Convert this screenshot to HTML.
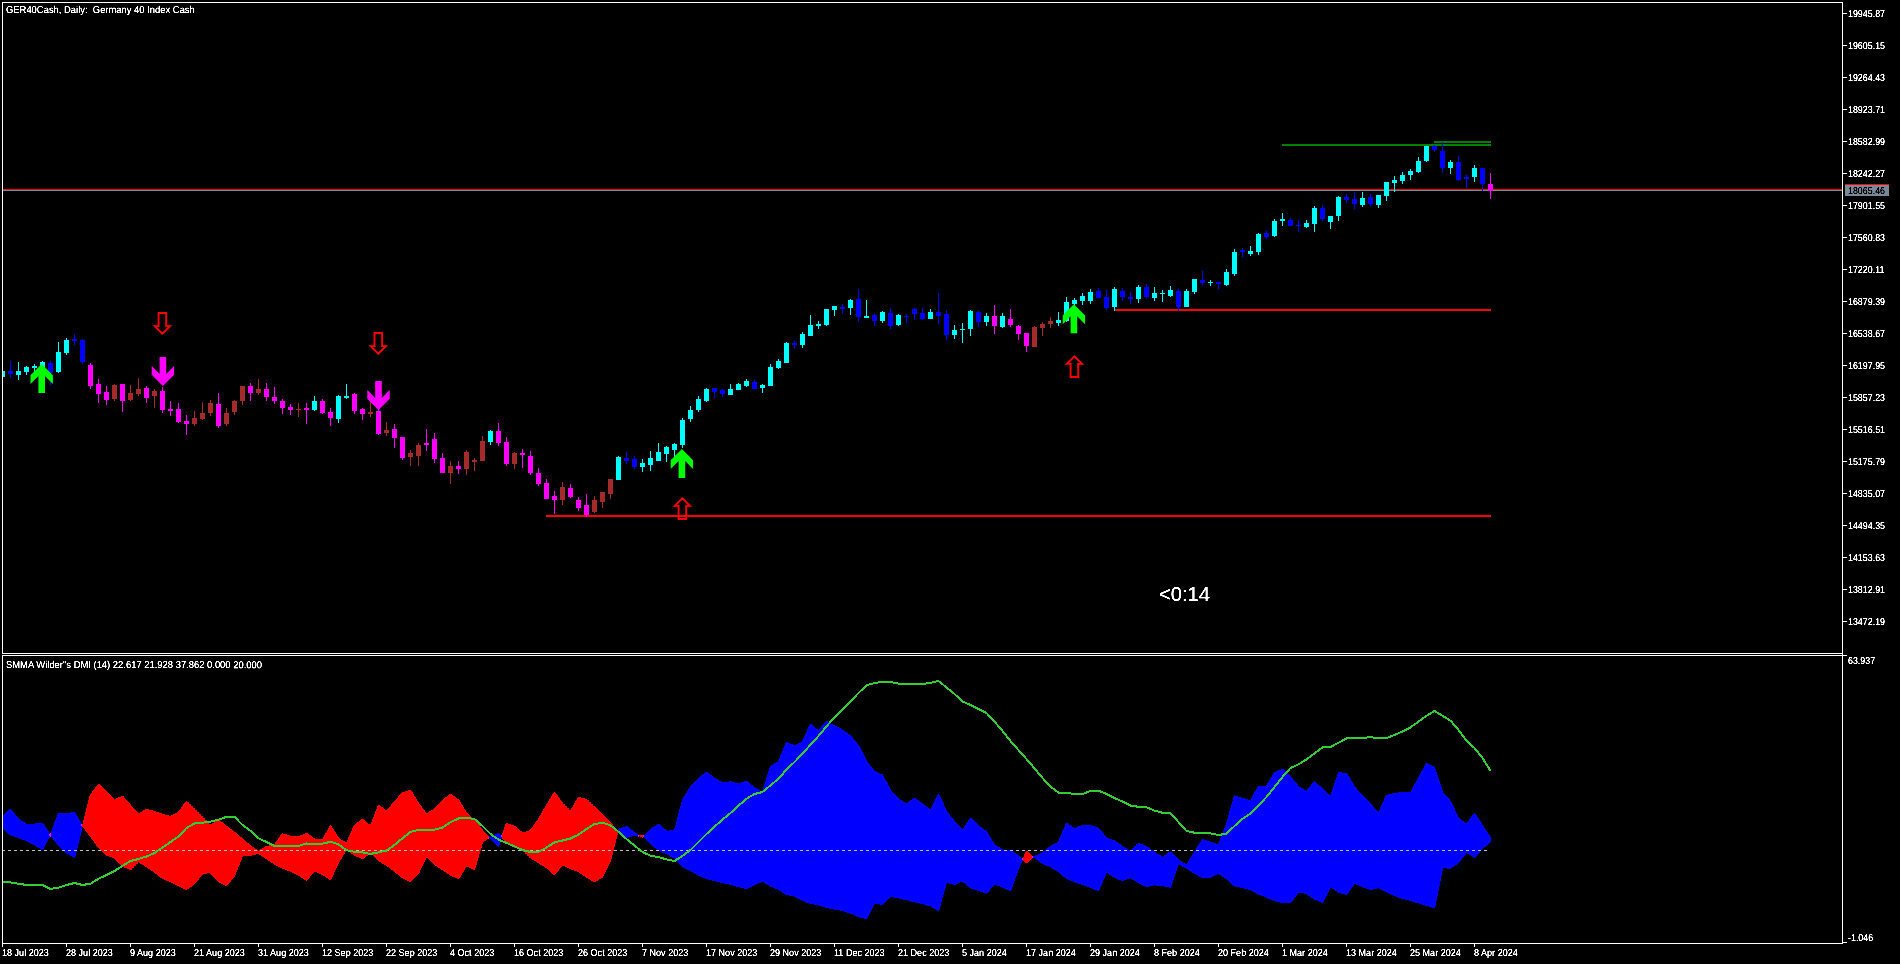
<!DOCTYPE html>
<html><head><meta charset="utf-8"><title>GER40Cash Daily</title>
<style>
html,body{margin:0;padding:0;background:#000;}
body{width:1900px;height:964px;overflow:hidden;position:relative;font-family:"Liberation Sans",sans-serif;color:#fff;}
svg{position:absolute;left:0;top:0;}
div{position:absolute;white-space:pre;line-height:12px;height:12px;transform-origin:0 0;}
.a{font-size:10px;transform:scaleX(.888) rotate(.03deg);}
.a.d{transform:scaleX(.905) rotate(.03deg);}
.h{font-size:10px;transform:scaleX(.941) rotate(.03deg);}
.tm{font-size:19.6px;line-height:24px;height:24px;transform:scaleX(1.03);}
</style></head><body>
<svg width="1900" height="964" viewBox="0 0 1900 964" shape-rendering="crispEdges">
<rect x="3" y="189" width="1839" height="1" fill="#ff0000"/>
<rect x="3" y="190" width="1839" height="1" fill="#778899"/>
<rect x="1282" y="144" width="209" height="2" fill="#008000"/>
<rect x="1434" y="141" width="57" height="2" fill="#008000"/>
<rect x="546" y="515" width="945" height="2" fill="#ff0000"/>
<rect x="1115" y="309" width="376" height="2" fill="#ff0000"/>
<rect x="3" y="371" width="2" height="6" fill="#00ffff"/>
<rect x="10" y="361" width="1" height="17" fill="#0000ff"/>
<rect x="8" y="371" width="5" height="3" fill="#0000ff"/>
<rect x="18" y="362" width="1" height="18" fill="#00ffff"/>
<rect x="16" y="371" width="5" height="4" fill="#00ffff"/>
<rect x="26" y="366" width="1" height="9" fill="#00ffff"/>
<rect x="24" y="367" width="5" height="5" fill="#00ffff"/>
<rect x="34" y="364" width="1" height="8" fill="#00ffff"/>
<rect x="32" y="366" width="5" height="2" fill="#00ffff"/>
<rect x="42" y="361" width="1" height="11" fill="#00ffff"/>
<rect x="40" y="362" width="5" height="8" fill="#00ffff"/>
<rect x="50" y="361" width="1" height="24" fill="#0000ff"/>
<rect x="48" y="363" width="5" height="10" fill="#0000ff"/>
<rect x="58" y="342" width="1" height="31" fill="#00ffff"/>
<rect x="56" y="352" width="5" height="20" fill="#00ffff"/>
<rect x="66" y="338" width="1" height="17" fill="#00ffff"/>
<rect x="64" y="340" width="5" height="13" fill="#00ffff"/>
<rect x="74" y="334" width="1" height="11" fill="#0000ff"/>
<rect x="72" y="339" width="5" height="2" fill="#0000ff"/>
<rect x="82" y="339" width="1" height="25" fill="#0000ff"/>
<rect x="80" y="340" width="5" height="22" fill="#0000ff"/>
<rect x="90" y="363" width="1" height="26" fill="#ff00ff"/>
<rect x="88" y="365" width="5" height="21" fill="#ff00ff"/>
<rect x="98" y="379" width="1" height="24" fill="#ff00ff"/>
<rect x="96" y="384" width="5" height="10" fill="#ff00ff"/>
<rect x="106" y="386" width="1" height="19" fill="#ff00ff"/>
<rect x="104" y="392" width="5" height="8" fill="#ff00ff"/>
<rect x="114" y="384" width="1" height="17" fill="#a52a2a"/>
<rect x="112" y="385" width="5" height="14" fill="#a52a2a"/>
<rect x="122" y="384" width="1" height="28" fill="#ff00ff"/>
<rect x="120" y="384" width="5" height="17" fill="#ff00ff"/>
<rect x="130" y="385" width="1" height="16" fill="#a52a2a"/>
<rect x="128" y="393" width="5" height="7" fill="#a52a2a"/>
<rect x="138" y="378" width="1" height="18" fill="#a52a2a"/>
<rect x="136" y="389" width="5" height="5" fill="#a52a2a"/>
<rect x="146" y="386" width="1" height="17" fill="#ff00ff"/>
<rect x="144" y="388" width="5" height="10" fill="#ff00ff"/>
<rect x="154" y="389" width="1" height="19" fill="#a52a2a"/>
<rect x="152" y="391" width="5" height="5" fill="#a52a2a"/>
<rect x="162" y="387" width="1" height="26" fill="#ff00ff"/>
<rect x="160" y="391" width="5" height="19" fill="#ff00ff"/>
<rect x="170" y="401" width="1" height="15" fill="#ff00ff"/>
<rect x="168" y="409" width="5" height="2" fill="#ff00ff"/>
<rect x="178" y="403" width="1" height="20" fill="#ff00ff"/>
<rect x="176" y="409" width="5" height="13" fill="#ff00ff"/>
<rect x="186" y="415" width="1" height="20" fill="#ff00ff"/>
<rect x="184" y="421" width="5" height="3" fill="#ff00ff"/>
<rect x="194" y="411" width="1" height="15" fill="#a52a2a"/>
<rect x="192" y="418" width="5" height="6" fill="#a52a2a"/>
<rect x="202" y="402" width="1" height="18" fill="#a52a2a"/>
<rect x="200" y="413" width="5" height="6" fill="#a52a2a"/>
<rect x="210" y="400" width="1" height="16" fill="#a52a2a"/>
<rect x="208" y="403" width="5" height="10" fill="#a52a2a"/>
<rect x="218" y="393" width="1" height="35" fill="#ff00ff"/>
<rect x="216" y="404" width="5" height="22" fill="#ff00ff"/>
<rect x="226" y="408" width="1" height="18" fill="#a52a2a"/>
<rect x="224" y="413" width="5" height="11" fill="#a52a2a"/>
<rect x="234" y="400" width="1" height="15" fill="#a52a2a"/>
<rect x="232" y="401" width="5" height="11" fill="#a52a2a"/>
<rect x="242" y="386" width="1" height="19" fill="#a52a2a"/>
<rect x="240" y="386" width="5" height="15" fill="#a52a2a"/>
<rect x="250" y="383" width="1" height="18" fill="#ff00ff"/>
<rect x="248" y="386" width="5" height="7" fill="#ff00ff"/>
<rect x="258" y="379" width="1" height="16" fill="#a52a2a"/>
<rect x="256" y="389" width="5" height="4" fill="#a52a2a"/>
<rect x="266" y="383" width="1" height="18" fill="#ff00ff"/>
<rect x="264" y="389" width="5" height="8" fill="#ff00ff"/>
<rect x="274" y="387" width="1" height="17" fill="#ff00ff"/>
<rect x="272" y="397" width="5" height="4" fill="#ff00ff"/>
<rect x="282" y="399" width="1" height="15" fill="#ff00ff"/>
<rect x="280" y="401" width="5" height="7" fill="#ff00ff"/>
<rect x="290" y="404" width="1" height="11" fill="#ff00ff"/>
<rect x="288" y="407" width="5" height="3" fill="#ff00ff"/>
<rect x="298" y="403" width="1" height="14" fill="#a52a2a"/>
<rect x="296" y="409" width="5" height="1" fill="#a52a2a"/>
<rect x="306" y="403" width="1" height="21" fill="#ff00ff"/>
<rect x="304" y="408" width="5" height="2" fill="#ff00ff"/>
<rect x="314" y="396" width="1" height="15" fill="#00ffff"/>
<rect x="312" y="401" width="5" height="9" fill="#00ffff"/>
<rect x="322" y="399" width="1" height="15" fill="#ff00ff"/>
<rect x="320" y="401" width="5" height="12" fill="#ff00ff"/>
<rect x="330" y="408" width="1" height="18" fill="#ff00ff"/>
<rect x="328" y="412" width="5" height="6" fill="#ff00ff"/>
<rect x="338" y="395" width="1" height="28" fill="#00ffff"/>
<rect x="336" y="396" width="5" height="23" fill="#00ffff"/>
<rect x="346" y="384" width="1" height="15" fill="#00ffff"/>
<rect x="344" y="396" width="5" height="2" fill="#00ffff"/>
<rect x="354" y="393" width="1" height="21" fill="#ff00ff"/>
<rect x="352" y="394" width="5" height="17" fill="#ff00ff"/>
<rect x="362" y="408" width="1" height="12" fill="#ff00ff"/>
<rect x="360" y="409" width="5" height="5" fill="#ff00ff"/>
<rect x="370" y="401" width="1" height="16" fill="#a52a2a"/>
<rect x="368" y="412" width="5" height="2" fill="#a52a2a"/>
<rect x="378" y="409" width="1" height="26" fill="#ff00ff"/>
<rect x="376" y="411" width="5" height="23" fill="#ff00ff"/>
<rect x="386" y="422" width="1" height="14" fill="#a52a2a"/>
<rect x="384" y="430" width="5" height="3" fill="#a52a2a"/>
<rect x="394" y="424" width="1" height="24" fill="#ff00ff"/>
<rect x="392" y="429" width="5" height="9" fill="#ff00ff"/>
<rect x="402" y="437" width="1" height="23" fill="#ff00ff"/>
<rect x="400" y="437" width="5" height="21" fill="#ff00ff"/>
<rect x="410" y="450" width="1" height="16" fill="#a52a2a"/>
<rect x="408" y="453" width="5" height="4" fill="#a52a2a"/>
<rect x="418" y="443" width="1" height="23" fill="#a52a2a"/>
<rect x="416" y="445" width="5" height="11" fill="#a52a2a"/>
<rect x="426" y="429" width="1" height="22" fill="#ff00ff"/>
<rect x="424" y="443" width="5" height="2" fill="#ff00ff"/>
<rect x="434" y="433" width="1" height="30" fill="#ff00ff"/>
<rect x="432" y="439" width="5" height="20" fill="#ff00ff"/>
<rect x="442" y="453" width="1" height="20" fill="#ff00ff"/>
<rect x="440" y="458" width="5" height="15" fill="#ff00ff"/>
<rect x="450" y="461" width="1" height="23" fill="#a52a2a"/>
<rect x="448" y="466" width="5" height="7" fill="#a52a2a"/>
<rect x="458" y="461" width="1" height="13" fill="#ff00ff"/>
<rect x="456" y="466" width="5" height="3" fill="#ff00ff"/>
<rect x="466" y="450" width="1" height="25" fill="#a52a2a"/>
<rect x="464" y="452" width="5" height="17" fill="#a52a2a"/>
<rect x="474" y="458" width="1" height="13" fill="#a52a2a"/>
<rect x="472" y="460" width="5" height="2" fill="#a52a2a"/>
<rect x="482" y="436" width="1" height="25" fill="#a52a2a"/>
<rect x="480" y="441" width="5" height="20" fill="#a52a2a"/>
<rect x="490" y="430" width="1" height="15" fill="#00ffff"/>
<rect x="488" y="431" width="5" height="11" fill="#00ffff"/>
<rect x="498" y="423" width="1" height="23" fill="#ff00ff"/>
<rect x="496" y="431" width="5" height="12" fill="#ff00ff"/>
<rect x="506" y="437" width="1" height="29" fill="#ff00ff"/>
<rect x="504" y="442" width="5" height="22" fill="#ff00ff"/>
<rect x="514" y="452" width="1" height="17" fill="#a52a2a"/>
<rect x="512" y="453" width="5" height="11" fill="#a52a2a"/>
<rect x="522" y="449" width="1" height="19" fill="#ff00ff"/>
<rect x="520" y="453" width="5" height="2" fill="#ff00ff"/>
<rect x="530" y="451" width="1" height="24" fill="#ff00ff"/>
<rect x="528" y="456" width="5" height="17" fill="#ff00ff"/>
<rect x="538" y="468" width="1" height="18" fill="#ff00ff"/>
<rect x="536" y="473" width="5" height="11" fill="#ff00ff"/>
<rect x="546" y="479" width="1" height="20" fill="#ff00ff"/>
<rect x="544" y="483" width="5" height="16" fill="#ff00ff"/>
<rect x="554" y="491" width="1" height="23" fill="#ff00ff"/>
<rect x="552" y="496" width="5" height="4" fill="#ff00ff"/>
<rect x="562" y="482" width="1" height="23" fill="#a52a2a"/>
<rect x="560" y="487" width="5" height="13" fill="#a52a2a"/>
<rect x="570" y="484" width="1" height="14" fill="#ff00ff"/>
<rect x="568" y="488" width="5" height="9" fill="#ff00ff"/>
<rect x="578" y="497" width="1" height="14" fill="#ff00ff"/>
<rect x="576" y="500" width="5" height="8" fill="#ff00ff"/>
<rect x="586" y="494" width="1" height="23" fill="#ff00ff"/>
<rect x="584" y="505" width="5" height="10" fill="#ff00ff"/>
<rect x="594" y="496" width="1" height="17" fill="#a52a2a"/>
<rect x="592" y="500" width="5" height="12" fill="#a52a2a"/>
<rect x="602" y="492" width="1" height="16" fill="#a52a2a"/>
<rect x="600" y="492" width="5" height="10" fill="#a52a2a"/>
<rect x="610" y="479" width="1" height="20" fill="#a52a2a"/>
<rect x="608" y="479" width="5" height="15" fill="#a52a2a"/>
<rect x="618" y="456" width="1" height="24" fill="#00ffff"/>
<rect x="616" y="457" width="5" height="23" fill="#00ffff"/>
<rect x="626" y="452" width="1" height="12" fill="#0000ff"/>
<rect x="624" y="458" width="5" height="3" fill="#0000ff"/>
<rect x="634" y="456" width="1" height="13" fill="#0000ff"/>
<rect x="632" y="459" width="5" height="8" fill="#0000ff"/>
<rect x="642" y="459" width="1" height="13" fill="#00ffff"/>
<rect x="640" y="463" width="5" height="4" fill="#00ffff"/>
<rect x="650" y="451" width="1" height="20" fill="#00ffff"/>
<rect x="648" y="458" width="5" height="7" fill="#00ffff"/>
<rect x="658" y="443" width="1" height="18" fill="#00ffff"/>
<rect x="656" y="452" width="5" height="9" fill="#00ffff"/>
<rect x="666" y="446" width="1" height="16" fill="#00ffff"/>
<rect x="664" y="447" width="5" height="7" fill="#00ffff"/>
<rect x="674" y="443" width="1" height="14" fill="#00ffff"/>
<rect x="672" y="444" width="5" height="6" fill="#00ffff"/>
<rect x="682" y="418" width="1" height="30" fill="#00ffff"/>
<rect x="680" y="420" width="5" height="25" fill="#00ffff"/>
<rect x="690" y="406" width="1" height="16" fill="#00ffff"/>
<rect x="688" y="410" width="5" height="9" fill="#00ffff"/>
<rect x="698" y="396" width="1" height="16" fill="#00ffff"/>
<rect x="696" y="399" width="5" height="11" fill="#00ffff"/>
<rect x="706" y="388" width="1" height="14" fill="#00ffff"/>
<rect x="704" y="389" width="5" height="12" fill="#00ffff"/>
<rect x="714" y="388" width="1" height="10" fill="#0000ff"/>
<rect x="712" y="388" width="5" height="4" fill="#0000ff"/>
<rect x="722" y="389" width="1" height="8" fill="#0000ff"/>
<rect x="720" y="390" width="5" height="4" fill="#0000ff"/>
<rect x="730" y="384" width="1" height="11" fill="#00ffff"/>
<rect x="728" y="389" width="5" height="6" fill="#00ffff"/>
<rect x="738" y="383" width="1" height="7" fill="#00ffff"/>
<rect x="736" y="384" width="5" height="6" fill="#00ffff"/>
<rect x="746" y="379" width="1" height="8" fill="#00ffff"/>
<rect x="744" y="381" width="5" height="5" fill="#00ffff"/>
<rect x="754" y="380" width="1" height="9" fill="#0000ff"/>
<rect x="752" y="382" width="5" height="7" fill="#0000ff"/>
<rect x="762" y="384" width="1" height="9" fill="#00ffff"/>
<rect x="760" y="385" width="5" height="3" fill="#00ffff"/>
<rect x="770" y="364" width="1" height="22" fill="#00ffff"/>
<rect x="768" y="367" width="5" height="19" fill="#00ffff"/>
<rect x="778" y="359" width="1" height="10" fill="#00ffff"/>
<rect x="776" y="361" width="5" height="7" fill="#00ffff"/>
<rect x="786" y="342" width="1" height="21" fill="#00ffff"/>
<rect x="784" y="343" width="5" height="20" fill="#00ffff"/>
<rect x="794" y="341" width="1" height="8" fill="#0000ff"/>
<rect x="792" y="343" width="5" height="2" fill="#0000ff"/>
<rect x="802" y="332" width="1" height="16" fill="#00ffff"/>
<rect x="800" y="334" width="5" height="11" fill="#00ffff"/>
<rect x="810" y="315" width="1" height="21" fill="#00ffff"/>
<rect x="808" y="325" width="5" height="11" fill="#00ffff"/>
<rect x="818" y="321" width="1" height="8" fill="#00ffff"/>
<rect x="816" y="324" width="5" height="2" fill="#00ffff"/>
<rect x="826" y="309" width="1" height="17" fill="#00ffff"/>
<rect x="824" y="309" width="5" height="16" fill="#00ffff"/>
<rect x="834" y="306" width="1" height="10" fill="#00ffff"/>
<rect x="832" y="306" width="5" height="4" fill="#00ffff"/>
<rect x="842" y="304" width="1" height="10" fill="#0000ff"/>
<rect x="840" y="307" width="5" height="2" fill="#0000ff"/>
<rect x="850" y="299" width="1" height="16" fill="#00ffff"/>
<rect x="848" y="300" width="5" height="8" fill="#00ffff"/>
<rect x="858" y="289" width="1" height="33" fill="#0000ff"/>
<rect x="856" y="299" width="5" height="18" fill="#0000ff"/>
<rect x="866" y="300" width="1" height="18" fill="#00ffff"/>
<rect x="864" y="316" width="5" height="2" fill="#00ffff"/>
<rect x="874" y="314" width="1" height="12" fill="#0000ff"/>
<rect x="872" y="315" width="5" height="6" fill="#0000ff"/>
<rect x="882" y="311" width="1" height="12" fill="#00ffff"/>
<rect x="880" y="312" width="5" height="9" fill="#00ffff"/>
<rect x="890" y="308" width="1" height="21" fill="#0000ff"/>
<rect x="888" y="313" width="5" height="13" fill="#0000ff"/>
<rect x="898" y="314" width="1" height="12" fill="#00ffff"/>
<rect x="896" y="315" width="5" height="10" fill="#00ffff"/>
<rect x="906" y="314" width="1" height="9" fill="#0000ff"/>
<rect x="904" y="316" width="5" height="1" fill="#0000ff"/>
<rect x="914" y="308" width="1" height="12" fill="#0000ff"/>
<rect x="912" y="309" width="5" height="5" fill="#0000ff"/>
<rect x="922" y="308" width="1" height="12" fill="#0000ff"/>
<rect x="920" y="313" width="5" height="6" fill="#0000ff"/>
<rect x="930" y="309" width="1" height="10" fill="#00ffff"/>
<rect x="928" y="312" width="5" height="7" fill="#00ffff"/>
<rect x="938" y="293" width="1" height="31" fill="#0000ff"/>
<rect x="936" y="312" width="5" height="4" fill="#0000ff"/>
<rect x="946" y="310" width="1" height="30" fill="#0000ff"/>
<rect x="944" y="314" width="5" height="21" fill="#0000ff"/>
<rect x="954" y="325" width="1" height="14" fill="#00ffff"/>
<rect x="952" y="330" width="5" height="5" fill="#00ffff"/>
<rect x="962" y="323" width="1" height="20" fill="#00ffff"/>
<rect x="960" y="329" width="5" height="1" fill="#00ffff"/>
<rect x="970" y="310" width="1" height="26" fill="#00ffff"/>
<rect x="968" y="311" width="5" height="18" fill="#00ffff"/>
<rect x="978" y="311" width="1" height="16" fill="#0000ff"/>
<rect x="976" y="312" width="5" height="10" fill="#0000ff"/>
<rect x="986" y="313" width="1" height="13" fill="#00ffff"/>
<rect x="984" y="316" width="5" height="6" fill="#00ffff"/>
<rect x="994" y="305" width="1" height="29" fill="#ff00ff"/>
<rect x="992" y="316" width="5" height="10" fill="#ff00ff"/>
<rect x="1002" y="313" width="1" height="15" fill="#00ffff"/>
<rect x="1000" y="316" width="5" height="11" fill="#00ffff"/>
<rect x="1010" y="309" width="1" height="18" fill="#ff00ff"/>
<rect x="1008" y="319" width="5" height="6" fill="#ff00ff"/>
<rect x="1018" y="325" width="1" height="15" fill="#ff00ff"/>
<rect x="1016" y="326" width="5" height="8" fill="#ff00ff"/>
<rect x="1026" y="333" width="1" height="19" fill="#ff00ff"/>
<rect x="1024" y="333" width="5" height="13" fill="#ff00ff"/>
<rect x="1034" y="326" width="1" height="21" fill="#a52a2a"/>
<rect x="1032" y="327" width="5" height="20" fill="#a52a2a"/>
<rect x="1042" y="322" width="1" height="14" fill="#a52a2a"/>
<rect x="1040" y="324" width="5" height="4" fill="#a52a2a"/>
<rect x="1050" y="317" width="1" height="11" fill="#a52a2a"/>
<rect x="1048" y="321" width="5" height="3" fill="#a52a2a"/>
<rect x="1058" y="312" width="1" height="14" fill="#00ffff"/>
<rect x="1056" y="320" width="5" height="3" fill="#00ffff"/>
<rect x="1066" y="297" width="1" height="25" fill="#00ffff"/>
<rect x="1064" y="302" width="5" height="19" fill="#00ffff"/>
<rect x="1074" y="298" width="1" height="8" fill="#00ffff"/>
<rect x="1072" y="300" width="5" height="4" fill="#00ffff"/>
<rect x="1082" y="293" width="1" height="12" fill="#00ffff"/>
<rect x="1080" y="296" width="5" height="5" fill="#00ffff"/>
<rect x="1090" y="289" width="1" height="15" fill="#00ffff"/>
<rect x="1088" y="292" width="5" height="9" fill="#00ffff"/>
<rect x="1098" y="288" width="1" height="10" fill="#0000ff"/>
<rect x="1096" y="291" width="5" height="7" fill="#0000ff"/>
<rect x="1106" y="290" width="1" height="20" fill="#0000ff"/>
<rect x="1104" y="297" width="5" height="11" fill="#0000ff"/>
<rect x="1114" y="287" width="1" height="24" fill="#00ffff"/>
<rect x="1112" y="289" width="5" height="18" fill="#00ffff"/>
<rect x="1122" y="288" width="1" height="13" fill="#0000ff"/>
<rect x="1120" y="291" width="5" height="6" fill="#0000ff"/>
<rect x="1130" y="292" width="1" height="12" fill="#0000ff"/>
<rect x="1128" y="297" width="5" height="2" fill="#0000ff"/>
<rect x="1138" y="285" width="1" height="18" fill="#00ffff"/>
<rect x="1136" y="287" width="5" height="12" fill="#00ffff"/>
<rect x="1146" y="284" width="1" height="15" fill="#0000ff"/>
<rect x="1144" y="287" width="5" height="10" fill="#0000ff"/>
<rect x="1154" y="287" width="1" height="14" fill="#00ffff"/>
<rect x="1152" y="293" width="5" height="5" fill="#00ffff"/>
<rect x="1162" y="290" width="1" height="12" fill="#00ffff"/>
<rect x="1160" y="293" width="5" height="1" fill="#00ffff"/>
<rect x="1170" y="286" width="1" height="11" fill="#00ffff"/>
<rect x="1168" y="290" width="5" height="6" fill="#00ffff"/>
<rect x="1178" y="289" width="1" height="22" fill="#0000ff"/>
<rect x="1176" y="291" width="5" height="16" fill="#0000ff"/>
<rect x="1186" y="289" width="1" height="18" fill="#00ffff"/>
<rect x="1184" y="291" width="5" height="16" fill="#00ffff"/>
<rect x="1194" y="279" width="1" height="15" fill="#00ffff"/>
<rect x="1192" y="279" width="5" height="13" fill="#00ffff"/>
<rect x="1202" y="271" width="1" height="14" fill="#0000ff"/>
<rect x="1200" y="280" width="5" height="3" fill="#0000ff"/>
<rect x="1210" y="280" width="1" height="6" fill="#00ffff"/>
<rect x="1208" y="282" width="5" height="1" fill="#00ffff"/>
<rect x="1218" y="282" width="1" height="7" fill="#0000ff"/>
<rect x="1216" y="282" width="5" height="2" fill="#0000ff"/>
<rect x="1226" y="269" width="1" height="17" fill="#00ffff"/>
<rect x="1224" y="272" width="5" height="13" fill="#00ffff"/>
<rect x="1234" y="249" width="1" height="27" fill="#00ffff"/>
<rect x="1232" y="252" width="5" height="22" fill="#00ffff"/>
<rect x="1242" y="248" width="1" height="9" fill="#0000ff"/>
<rect x="1240" y="250" width="5" height="2" fill="#0000ff"/>
<rect x="1250" y="246" width="1" height="10" fill="#00ffff"/>
<rect x="1248" y="251" width="5" height="3" fill="#00ffff"/>
<rect x="1258" y="233" width="1" height="22" fill="#00ffff"/>
<rect x="1256" y="234" width="5" height="18" fill="#00ffff"/>
<rect x="1266" y="231" width="1" height="8" fill="#0000ff"/>
<rect x="1264" y="233" width="5" height="4" fill="#0000ff"/>
<rect x="1274" y="219" width="1" height="18" fill="#00ffff"/>
<rect x="1272" y="221" width="5" height="15" fill="#00ffff"/>
<rect x="1282" y="213" width="1" height="13" fill="#00ffff"/>
<rect x="1280" y="219" width="5" height="2" fill="#00ffff"/>
<rect x="1290" y="218" width="1" height="8" fill="#0000ff"/>
<rect x="1288" y="220" width="5" height="6" fill="#0000ff"/>
<rect x="1298" y="220" width="1" height="12" fill="#0000ff"/>
<rect x="1296" y="225" width="5" height="1" fill="#0000ff"/>
<rect x="1306" y="220" width="1" height="8" fill="#00ffff"/>
<rect x="1304" y="223" width="5" height="4" fill="#00ffff"/>
<rect x="1314" y="206" width="1" height="26" fill="#00ffff"/>
<rect x="1312" y="208" width="5" height="16" fill="#00ffff"/>
<rect x="1322" y="205" width="1" height="16" fill="#0000ff"/>
<rect x="1320" y="208" width="5" height="11" fill="#0000ff"/>
<rect x="1330" y="216" width="1" height="13" fill="#00ffff"/>
<rect x="1328" y="216" width="5" height="6" fill="#00ffff"/>
<rect x="1338" y="196" width="1" height="25" fill="#00ffff"/>
<rect x="1336" y="197" width="5" height="19" fill="#00ffff"/>
<rect x="1346" y="194" width="1" height="9" fill="#0000ff"/>
<rect x="1344" y="197" width="5" height="3" fill="#0000ff"/>
<rect x="1354" y="192" width="1" height="17" fill="#0000ff"/>
<rect x="1352" y="199" width="5" height="5" fill="#0000ff"/>
<rect x="1362" y="192" width="1" height="15" fill="#00ffff"/>
<rect x="1360" y="198" width="5" height="7" fill="#00ffff"/>
<rect x="1370" y="194" width="1" height="12" fill="#0000ff"/>
<rect x="1368" y="197" width="5" height="7" fill="#0000ff"/>
<rect x="1378" y="195" width="1" height="13" fill="#00ffff"/>
<rect x="1376" y="195" width="5" height="10" fill="#00ffff"/>
<rect x="1386" y="182" width="1" height="19" fill="#00ffff"/>
<rect x="1384" y="182" width="5" height="14" fill="#00ffff"/>
<rect x="1394" y="176" width="1" height="16" fill="#00ffff"/>
<rect x="1392" y="180" width="5" height="3" fill="#00ffff"/>
<rect x="1402" y="172" width="1" height="12" fill="#00ffff"/>
<rect x="1400" y="175" width="5" height="6" fill="#00ffff"/>
<rect x="1410" y="169" width="1" height="11" fill="#00ffff"/>
<rect x="1408" y="171" width="5" height="4" fill="#00ffff"/>
<rect x="1418" y="157" width="1" height="16" fill="#00ffff"/>
<rect x="1416" y="161" width="5" height="11" fill="#00ffff"/>
<rect x="1426" y="146" width="1" height="16" fill="#00ffff"/>
<rect x="1424" y="146" width="5" height="15" fill="#00ffff"/>
<rect x="1434" y="145" width="1" height="7" fill="#0000ff"/>
<rect x="1432" y="146" width="5" height="4" fill="#0000ff"/>
<rect x="1442" y="142" width="1" height="31" fill="#0000ff"/>
<rect x="1440" y="151" width="5" height="17" fill="#0000ff"/>
<rect x="1450" y="160" width="1" height="14" fill="#00ffff"/>
<rect x="1448" y="162" width="5" height="6" fill="#00ffff"/>
<rect x="1458" y="156" width="1" height="25" fill="#0000ff"/>
<rect x="1456" y="162" width="5" height="18" fill="#0000ff"/>
<rect x="1466" y="175" width="1" height="13" fill="#0000ff"/>
<rect x="1464" y="177" width="5" height="2" fill="#0000ff"/>
<rect x="1474" y="165" width="1" height="17" fill="#00ffff"/>
<rect x="1472" y="168" width="5" height="9" fill="#00ffff"/>
<rect x="1482" y="168" width="1" height="23" fill="#0000ff"/>
<rect x="1480" y="168" width="5" height="16" fill="#0000ff"/>
<rect x="1490" y="173" width="1" height="26" fill="#ff00ff"/>
<rect x="1488" y="184" width="5" height="7" fill="#ff00ff"/>
<polygon points="41.7,364.0 30.5,375.2 30.5,384.0 38.4,376.1 38.4,393.0 45.0,393.0 45.0,376.1 52.9,384.0 52.9,375.2" fill="#00ff00" shape-rendering="geometricPrecision"/>
<polygon points="162.9,386.0 151.7,374.8 151.7,366.0 159.6,373.9 159.6,357.0 166.2,357.0 166.2,373.9 174.1,366.0 174.1,374.8" fill="#ff00ff" shape-rendering="geometricPrecision"/>
<polygon points="378.5,410.0 367.3,398.8 367.3,390.0 375.2,397.9 375.2,381.0 381.8,381.0 381.8,397.9 389.7,390.0 389.7,398.8" fill="#ff00ff" shape-rendering="geometricPrecision"/>
<polygon points="681.9,449.0 670.7,460.2 670.7,469.0 678.6,461.1 678.6,478.0 685.2,478.0 685.2,461.1 693.1,469.0 693.1,460.2" fill="#00ff00" shape-rendering="geometricPrecision"/>
<polygon points="1073.9,304.2 1062.7,315.4 1062.7,324.2 1070.6,316.3 1070.6,333.2 1077.2,333.2 1077.2,316.3 1085.1,324.2 1085.1,315.4" fill="#00ff00" shape-rendering="geometricPrecision"/>
<polygon points="158.6,313.0 166.2,313.0 166.2,326.1 170.0,326.1 162.4,333.7 154.8,326.1 158.6,326.1" fill="none" stroke="#ff0000" stroke-width="1.9" stroke-linejoin="miter" shape-rendering="geometricPrecision"/>
<polygon points="374.5,333.0 382.1,333.0 382.1,346.1 385.9,346.1 378.3,353.7 370.7,346.1 374.5,346.1" fill="none" stroke="#ff0000" stroke-width="1.9" stroke-linejoin="miter" shape-rendering="geometricPrecision"/>
<polygon points="678.6,519.0 686.2,519.0 686.2,505.9 690.0,505.9 682.4,498.3 674.8,505.9 678.6,505.9" fill="none" stroke="#ff0000" stroke-width="1.9" stroke-linejoin="miter" shape-rendering="geometricPrecision"/>
<polygon points="1070.6,377.0 1078.2,377.0 1078.2,363.9 1082.0,363.9 1074.4,356.3 1066.8,363.9 1070.6,363.9" fill="none" stroke="#ff0000" stroke-width="1.9" stroke-linejoin="miter" shape-rendering="geometricPrecision"/>
<path d="M3,815h1v14h-1zM4,814h1v16h-1zM5,813h1v18h-1zM6,812h1v20h-1zM7,811h1v22h-1zM8,810h1v24h-1zM9,809h1v26h-1zM10,809h1v26h-1zM11,810h1v26h-1zM12,811h1v25h-1zM13,812h1v24h-1zM14,813h1v24h-1zM15,815h1v22h-1zM16,816h1v21h-1zM17,817h1v21h-1zM18,818h1v20h-1zM19,819h1v20h-1zM20,820h1v19h-1zM21,821h1v18h-1zM22,821h1v19h-1zM23,822h1v18h-1zM24,822h1v18h-1zM25,823h1v18h-1zM26,824h1v17h-1zM27,824h1v18h-1zM28,824h1v18h-1zM29,824h1v19h-1zM30,824h1v19h-1zM31,824h1v20h-1zM32,824h1v20h-1zM33,824h1v21h-1zM34,824h1v21h-1zM35,823h1v23h-1zM36,823h1v24h-1zM37,823h1v24h-1zM38,823h1v25h-1zM39,823h1v25h-1zM40,823h1v26h-1zM41,823h1v27h-1zM42,823h1v27h-1zM43,824h1v25h-1zM44,825h1v22h-1zM45,827h1v18h-1zM46,828h1v15h-1zM47,830h1v11h-1zM48,831h1v8h-1zM49,833h1v5h-1zM51,831h1v6h-1zM52,828h1v10h-1zM53,825h1v15h-1zM54,822h1v19h-1zM55,820h1v22h-1zM56,817h1v27h-1zM57,814h1v31h-1zM58,813h1v33h-1zM59,813h1v34h-1zM60,813h1v35h-1zM61,813h1v36h-1zM62,813h1v37h-1zM63,813h1v38h-1zM64,813h1v39h-1zM65,813h1v40h-1zM66,813h1v40h-1zM67,813h1v41h-1zM68,813h1v41h-1zM69,813h1v42h-1zM70,813h1v43h-1zM71,812h1v44h-1zM72,812h1v45h-1zM73,812h1v45h-1zM74,812h1v46h-1zM75,813h1v43h-1zM76,815h1v37h-1zM77,816h1v32h-1zM78,818h1v26h-1zM79,820h1v20h-1zM80,822h1v14h-1zM81,823h1v9h-1zM489,837h1v1h-1zM490,837h1v2h-1zM491,836h1v4h-1zM492,836h1v5h-1zM493,835h1v7h-1zM494,835h1v8h-1zM495,834h1v10h-1zM496,834h1v11h-1zM497,833h1v13h-1zM498,833h1v14h-1zM499,834h1v11h-1zM500,835h1v7h-1zM501,836h1v3h-1zM618,829h1v4h-1zM619,828h1v6h-1zM620,828h1v6h-1zM621,828h1v7h-1zM622,827h1v9h-1zM623,827h1v9h-1zM624,827h1v10h-1zM625,826h1v11h-1zM626,826h1v12h-1zM627,826h1v12h-1zM628,827h1v10h-1zM629,828h1v9h-1zM630,829h1v8h-1zM631,830h1v7h-1zM632,830h1v6h-1zM633,831h1v5h-1zM634,832h1v4h-1zM635,833h1v3h-1zM636,833h1v3h-1zM637,834h1v2h-1zM638,835h1v1h-1zM644,835h1v3h-1zM645,834h1v5h-1zM646,833h1v7h-1zM647,832h1v9h-1zM648,831h1v11h-1zM649,830h1v13h-1zM650,829h1v15h-1zM651,828h1v17h-1zM652,827h1v19h-1zM653,827h1v20h-1zM654,826h1v22h-1zM655,826h1v22h-1zM656,825h1v24h-1zM657,824h1v26h-1zM658,824h1v27h-1zM659,824h1v27h-1zM660,825h1v27h-1zM661,826h1v26h-1zM662,827h1v26h-1zM663,828h1v25h-1zM664,829h1v24h-1zM665,829h1v25h-1zM666,830h1v24h-1zM667,831h1v24h-1zM668,831h1v24h-1zM669,830h1v26h-1zM670,830h1v27h-1zM671,830h1v27h-1zM672,830h1v28h-1zM673,830h1v28h-1zM674,828h1v31h-1zM675,825h1v35h-1zM676,821h1v40h-1zM677,817h1v45h-1zM678,813h1v50h-1zM679,809h1v55h-1zM680,806h1v59h-1zM681,802h1v64h-1zM682,799h1v68h-1zM683,797h1v71h-1zM684,796h1v72h-1zM685,794h1v75h-1zM686,793h1v76h-1zM687,791h1v79h-1zM688,789h1v81h-1zM689,788h1v83h-1zM690,786h1v85h-1zM691,785h1v87h-1zM692,784h1v88h-1zM693,783h1v90h-1zM694,782h1v91h-1zM695,781h1v93h-1zM696,780h1v95h-1zM697,779h1v96h-1zM698,778h1v98h-1zM699,777h1v99h-1zM700,776h1v101h-1zM701,775h1v102h-1zM702,775h1v102h-1zM703,774h1v104h-1zM704,773h1v105h-1zM705,772h1v107h-1zM706,772h1v107h-1zM707,772h1v107h-1zM708,773h1v107h-1zM709,774h1v106h-1zM710,775h1v105h-1zM711,775h1v105h-1zM712,776h1v105h-1zM713,777h1v104h-1zM714,778h1v103h-1zM715,778h1v103h-1zM716,779h1v103h-1zM717,779h1v103h-1zM718,780h1v102h-1zM719,781h1v101h-1zM720,781h1v102h-1zM721,782h1v101h-1zM722,782h1v101h-1zM723,782h1v101h-1zM724,782h1v102h-1zM725,782h1v102h-1zM726,782h1v102h-1zM727,782h1v102h-1zM728,782h1v102h-1zM729,781h1v104h-1zM730,781h1v104h-1zM731,781h1v104h-1zM732,782h1v103h-1zM733,782h1v104h-1zM734,782h1v104h-1zM735,783h1v103h-1zM736,783h1v104h-1zM737,783h1v104h-1zM738,783h1v104h-1zM739,783h1v104h-1zM740,783h1v105h-1zM741,782h1v106h-1zM742,782h1v106h-1zM743,782h1v106h-1zM744,781h1v108h-1zM745,781h1v108h-1zM746,781h1v108h-1zM747,781h1v108h-1zM748,782h1v106h-1zM749,783h1v105h-1zM750,784h1v103h-1zM751,785h1v102h-1zM752,785h1v101h-1zM753,786h1v100h-1zM754,787h1v98h-1zM755,788h1v97h-1zM756,788h1v96h-1zM757,789h1v95h-1zM758,789h1v94h-1zM759,790h1v93h-1zM760,791h1v92h-1zM761,791h1v91h-1zM762,790h1v92h-1zM763,787h1v95h-1zM764,784h1v99h-1zM765,781h1v103h-1zM766,777h1v107h-1zM767,774h1v111h-1zM768,771h1v114h-1zM769,768h1v118h-1zM770,766h1v121h-1zM771,765h1v122h-1zM772,765h1v122h-1zM773,764h1v124h-1zM774,763h1v125h-1zM775,763h1v126h-1zM776,762h1v127h-1zM777,762h1v127h-1zM778,760h1v130h-1zM779,758h1v133h-1zM780,755h1v136h-1zM781,753h1v139h-1zM782,751h1v142h-1zM783,748h1v145h-1zM784,746h1v148h-1zM785,743h1v152h-1zM786,742h1v153h-1zM787,742h1v153h-1zM788,743h1v152h-1zM789,743h1v153h-1zM790,744h1v152h-1zM791,744h1v152h-1zM792,744h1v152h-1zM793,745h1v151h-1zM794,745h1v152h-1zM795,745h1v152h-1zM796,744h1v154h-1zM797,744h1v154h-1zM798,743h1v156h-1zM799,743h1v156h-1zM800,742h1v158h-1zM801,742h1v158h-1zM802,740h1v161h-1zM803,738h1v163h-1zM804,736h1v166h-1zM805,734h1v168h-1zM806,732h1v171h-1zM807,729h1v174h-1zM808,727h1v176h-1zM809,725h1v179h-1zM810,724h1v180h-1zM811,724h1v180h-1zM812,725h1v179h-1zM813,726h1v178h-1zM814,727h1v178h-1zM815,728h1v177h-1zM816,729h1v176h-1zM817,729h1v176h-1zM818,730h1v175h-1zM819,729h1v177h-1zM820,728h1v178h-1zM821,726h1v180h-1zM822,725h1v182h-1zM823,724h1v183h-1zM824,723h1v184h-1zM825,722h1v186h-1zM826,721h1v187h-1zM827,721h1v187h-1zM828,722h1v186h-1zM829,722h1v187h-1zM830,723h1v186h-1zM831,724h1v185h-1zM832,724h1v185h-1zM833,725h1v184h-1zM834,725h1v185h-1zM835,726h1v184h-1zM836,726h1v184h-1zM837,727h1v183h-1zM838,727h1v183h-1zM839,728h1v182h-1zM840,728h1v183h-1zM841,729h1v182h-1zM842,730h1v181h-1zM843,730h1v181h-1zM844,731h1v181h-1zM845,732h1v180h-1zM846,732h1v180h-1zM847,733h1v180h-1zM848,734h1v179h-1zM849,735h1v178h-1zM850,735h1v179h-1zM851,736h1v178h-1zM852,737h1v177h-1zM853,739h1v176h-1zM854,740h1v175h-1zM855,741h1v175h-1zM856,742h1v174h-1zM857,744h1v173h-1zM858,745h1v172h-1zM859,746h1v171h-1zM860,748h1v170h-1zM861,750h1v168h-1zM862,752h1v166h-1zM863,754h1v164h-1zM864,756h1v163h-1zM865,758h1v161h-1zM866,760h1v159h-1zM867,762h1v156h-1zM868,763h1v153h-1zM869,764h1v150h-1zM870,766h1v146h-1zM871,767h1v143h-1zM872,768h1v140h-1zM873,769h1v137h-1zM874,771h1v133h-1zM875,771h1v133h-1zM876,772h1v132h-1zM877,772h1v132h-1zM878,773h1v131h-1zM879,773h1v131h-1zM880,774h1v131h-1zM881,774h1v131h-1zM882,774h1v131h-1zM883,776h1v128h-1zM884,778h1v125h-1zM885,780h1v122h-1zM886,781h1v120h-1zM887,783h1v117h-1zM888,785h1v114h-1zM889,787h1v111h-1zM890,789h1v108h-1zM891,791h1v106h-1zM892,792h1v105h-1zM893,793h1v104h-1zM894,794h1v104h-1zM895,795h1v103h-1zM896,796h1v102h-1zM897,797h1v101h-1zM898,798h1v100h-1zM899,799h1v100h-1zM900,800h1v99h-1zM901,800h1v99h-1zM902,801h1v98h-1zM903,802h1v98h-1zM904,802h1v98h-1zM905,803h1v97h-1zM906,803h1v97h-1zM907,803h1v97h-1zM908,802h1v99h-1zM909,801h1v100h-1zM910,800h1v101h-1zM911,800h1v102h-1zM912,799h1v103h-1zM913,798h1v104h-1zM914,798h1v104h-1zM915,798h1v105h-1zM916,799h1v104h-1zM917,800h1v103h-1zM918,800h1v103h-1zM919,801h1v102h-1zM920,802h1v102h-1zM921,803h1v101h-1zM922,803h1v101h-1zM923,804h1v100h-1zM924,805h1v100h-1zM925,806h1v99h-1zM926,806h1v99h-1zM927,807h1v99h-1zM928,808h1v98h-1zM929,809h1v97h-1zM930,809h1v97h-1zM931,807h1v100h-1zM932,805h1v103h-1zM933,803h1v105h-1zM934,801h1v108h-1zM935,799h1v110h-1zM936,797h1v113h-1zM937,795h1v116h-1zM938,794h1v117h-1zM939,795h1v114h-1zM940,797h1v109h-1zM941,799h1v103h-1zM942,801h1v97h-1zM943,803h1v92h-1zM944,806h1v85h-1zM945,808h1v80h-1zM946,810h1v74h-1zM947,812h1v71h-1zM948,813h1v70h-1zM949,814h1v70h-1zM950,816h1v68h-1zM951,817h1v67h-1zM952,818h1v66h-1zM953,819h1v66h-1zM954,821h1v64h-1zM955,822h1v63h-1zM956,823h1v61h-1zM957,824h1v60h-1zM958,825h1v58h-1zM959,826h1v57h-1zM960,827h1v55h-1zM961,828h1v54h-1zM962,829h1v53h-1zM963,828h1v55h-1zM964,826h1v57h-1zM965,825h1v59h-1zM966,823h1v62h-1zM967,822h1v64h-1zM968,820h1v67h-1zM969,819h1v69h-1zM970,818h1v70h-1zM971,818h1v71h-1zM972,819h1v70h-1zM973,820h1v69h-1zM974,821h1v69h-1zM975,822h1v68h-1zM976,823h1v67h-1zM977,824h1v67h-1zM978,825h1v66h-1zM979,826h1v65h-1zM980,827h1v65h-1zM981,827h1v65h-1zM982,828h1v64h-1zM983,829h1v64h-1zM984,830h1v63h-1zM985,830h1v63h-1zM986,831h1v63h-1zM987,832h1v61h-1zM988,834h1v58h-1zM989,836h1v55h-1zM990,837h1v52h-1zM991,839h1v49h-1zM992,841h1v46h-1zM993,842h1v44h-1zM994,844h1v41h-1zM995,845h1v40h-1zM996,846h1v39h-1zM997,846h1v40h-1zM998,847h1v39h-1zM999,847h1v39h-1zM1000,848h1v39h-1zM1001,849h1v38h-1zM1002,849h1v39h-1zM1003,850h1v38h-1zM1004,850h1v39h-1zM1005,850h1v39h-1zM1006,850h1v39h-1zM1007,850h1v40h-1zM1008,850h1v40h-1zM1009,850h1v41h-1zM1010,850h1v41h-1zM1011,851h1v39h-1zM1012,851h1v36h-1zM1013,852h1v32h-1zM1014,853h1v28h-1zM1015,853h1v25h-1zM1016,854h1v22h-1zM1017,854h1v19h-1zM1018,855h1v15h-1zM1019,856h1v12h-1zM1020,857h1v8h-1zM1021,858h1v5h-1zM1022,859h1v2h-1zM1033,856h1v2h-1zM1034,856h1v2h-1zM1035,855h1v4h-1zM1036,855h1v5h-1zM1037,855h1v5h-1zM1038,854h1v7h-1zM1039,854h1v8h-1zM1040,853h1v10h-1zM1041,853h1v10h-1zM1042,852h1v12h-1zM1043,851h1v13h-1zM1044,851h1v14h-1zM1045,850h1v15h-1zM1046,849h1v17h-1zM1047,848h1v18h-1zM1048,847h1v19h-1zM1049,847h1v20h-1zM1050,846h1v21h-1zM1051,845h1v23h-1zM1052,845h1v24h-1zM1053,844h1v25h-1zM1054,844h1v26h-1zM1055,843h1v27h-1zM1056,843h1v28h-1zM1057,842h1v30h-1zM1058,841h1v31h-1zM1059,838h1v35h-1zM1060,836h1v38h-1zM1061,834h1v41h-1zM1062,831h1v45h-1zM1063,829h1v48h-1zM1064,827h1v50h-1zM1065,824h1v54h-1zM1066,823h1v56h-1zM1067,823h1v56h-1zM1068,824h1v56h-1zM1069,825h1v55h-1zM1070,825h1v56h-1zM1071,826h1v55h-1zM1072,827h1v54h-1zM1073,827h1v55h-1zM1074,828h1v54h-1zM1075,828h1v55h-1zM1076,827h1v56h-1zM1077,827h1v56h-1zM1078,826h1v58h-1zM1079,826h1v58h-1zM1080,826h1v58h-1zM1081,825h1v60h-1zM1082,825h1v60h-1zM1083,825h1v60h-1zM1084,825h1v61h-1zM1085,825h1v61h-1zM1086,825h1v61h-1zM1087,825h1v62h-1zM1088,825h1v62h-1zM1089,825h1v63h-1zM1090,825h1v63h-1zM1091,825h1v63h-1zM1092,826h1v63h-1zM1093,826h1v63h-1zM1094,826h1v64h-1zM1095,827h1v63h-1zM1096,827h1v63h-1zM1097,827h1v64h-1zM1098,828h1v63h-1zM1099,829h1v61h-1zM1100,830h1v57h-1zM1101,831h1v54h-1zM1102,832h1v51h-1zM1103,833h1v47h-1zM1104,835h1v43h-1zM1105,836h1v40h-1zM1106,837h1v36h-1zM1107,838h1v35h-1zM1108,838h1v36h-1zM1109,839h1v36h-1zM1110,839h1v36h-1zM1111,839h1v37h-1zM1112,840h1v37h-1zM1113,840h1v37h-1zM1114,840h1v38h-1zM1115,841h1v37h-1zM1116,842h1v37h-1zM1117,842h1v37h-1zM1118,843h1v37h-1zM1119,844h1v36h-1zM1120,844h1v36h-1zM1121,845h1v36h-1zM1122,846h1v35h-1zM1123,847h1v34h-1zM1124,847h1v33h-1zM1125,848h1v32h-1zM1126,848h1v32h-1zM1127,849h1v30h-1zM1128,850h1v29h-1zM1129,850h1v29h-1zM1130,850h1v28h-1zM1131,850h1v29h-1zM1132,848h1v32h-1zM1133,848h1v32h-1zM1134,846h1v35h-1zM1135,846h1v35h-1zM1136,844h1v38h-1zM1137,844h1v39h-1zM1138,843h1v40h-1zM1139,843h1v41h-1zM1140,844h1v40h-1zM1141,844h1v41h-1zM1142,844h1v41h-1zM1143,845h1v41h-1zM1144,845h1v41h-1zM1145,846h1v41h-1zM1146,846h1v41h-1zM1147,847h1v40h-1zM1148,847h1v40h-1zM1149,848h1v38h-1zM1150,849h1v37h-1zM1151,850h1v36h-1zM1152,850h1v36h-1zM1153,851h1v35h-1zM1154,852h1v33h-1zM1155,852h1v33h-1zM1156,853h1v33h-1zM1157,854h1v32h-1zM1158,854h1v32h-1zM1159,855h1v31h-1zM1160,855h1v31h-1zM1161,856h1v30h-1zM1162,857h1v29h-1zM1163,856h1v30h-1zM1164,855h1v32h-1zM1165,855h1v32h-1zM1166,854h1v33h-1zM1167,853h1v34h-1zM1168,852h1v35h-1zM1169,852h1v36h-1zM1170,851h1v37h-1zM1171,852h1v34h-1zM1172,853h1v30h-1zM1173,854h1v26h-1zM1174,855h1v22h-1zM1175,856h1v18h-1zM1176,857h1v14h-1zM1177,858h1v10h-1zM1178,859h1v6h-1zM1179,860h1v5h-1zM1180,861h1v4h-1zM1181,861h1v5h-1zM1182,862h1v5h-1zM1183,863h1v4h-1zM1184,863h1v5h-1zM1185,864h1v4h-1zM1186,864h1v5h-1zM1187,863h1v6h-1zM1188,861h1v9h-1zM1189,859h1v12h-1zM1190,858h1v13h-1zM1191,856h1v16h-1zM1192,854h1v19h-1zM1193,853h1v20h-1zM1194,851h1v23h-1zM1195,850h1v24h-1zM1196,848h1v27h-1zM1197,846h1v29h-1zM1198,845h1v31h-1zM1199,843h1v34h-1zM1200,842h1v35h-1zM1201,840h1v38h-1zM1202,839h1v39h-1zM1203,839h1v39h-1zM1204,840h1v38h-1zM1205,840h1v38h-1zM1206,840h1v38h-1zM1207,841h1v37h-1zM1208,841h1v37h-1zM1209,841h1v37h-1zM1210,842h1v36h-1zM1211,842h1v35h-1zM1212,842h1v35h-1zM1213,843h1v33h-1zM1214,843h1v33h-1zM1215,843h1v32h-1zM1216,844h1v31h-1zM1217,844h1v30h-1zM1218,843h1v31h-1zM1219,841h1v34h-1zM1220,838h1v37h-1zM1221,836h1v40h-1zM1222,833h1v44h-1zM1223,830h1v47h-1zM1224,828h1v50h-1zM1225,825h1v54h-1zM1226,822h1v57h-1zM1227,819h1v61h-1zM1228,815h1v66h-1zM1229,811h1v71h-1zM1230,808h1v75h-1zM1231,804h1v80h-1zM1232,801h1v84h-1zM1233,797h1v89h-1zM1234,795h1v91h-1zM1235,796h1v91h-1zM1236,796h1v91h-1zM1237,796h1v91h-1zM1238,797h1v90h-1zM1239,797h1v90h-1zM1240,797h1v91h-1zM1241,798h1v90h-1zM1242,798h1v90h-1zM1243,798h1v90h-1zM1244,798h1v91h-1zM1245,799h1v90h-1zM1246,799h1v90h-1zM1247,799h1v90h-1zM1248,800h1v90h-1zM1249,800h1v90h-1zM1250,800h1v90h-1zM1251,798h1v93h-1zM1252,796h1v95h-1zM1253,794h1v98h-1zM1254,792h1v100h-1zM1255,791h1v102h-1zM1256,789h1v105h-1zM1257,787h1v107h-1zM1258,786h1v109h-1zM1259,786h1v109h-1zM1260,786h1v109h-1zM1261,786h1v110h-1zM1262,786h1v110h-1zM1263,786h1v110h-1zM1264,786h1v111h-1zM1265,786h1v111h-1zM1266,785h1v113h-1zM1267,783h1v115h-1zM1268,782h1v117h-1zM1269,780h1v119h-1zM1270,778h1v121h-1zM1271,777h1v123h-1zM1272,775h1v125h-1zM1273,773h1v128h-1zM1274,772h1v129h-1zM1275,772h1v129h-1zM1276,771h1v131h-1zM1277,771h1v131h-1zM1278,770h1v132h-1zM1279,770h1v132h-1zM1280,770h1v133h-1zM1281,769h1v134h-1zM1282,769h1v134h-1zM1283,769h1v134h-1zM1284,770h1v133h-1zM1285,771h1v132h-1zM1286,772h1v131h-1zM1287,773h1v130h-1zM1288,774h1v129h-1zM1289,775h1v128h-1zM1290,776h1v127h-1zM1291,777h1v125h-1zM1292,778h1v123h-1zM1293,780h1v120h-1zM1294,781h1v117h-1zM1295,782h1v115h-1zM1296,783h1v113h-1zM1297,784h1v110h-1zM1298,786h1v107h-1zM1299,787h1v106h-1zM1300,787h1v106h-1zM1301,788h1v105h-1zM1302,788h1v105h-1zM1303,789h1v104h-1zM1304,790h1v104h-1zM1305,790h1v104h-1zM1306,791h1v103h-1zM1307,789h1v106h-1zM1308,788h1v108h-1zM1309,787h1v109h-1zM1310,786h1v111h-1zM1311,784h1v114h-1zM1312,783h1v115h-1zM1313,782h1v117h-1zM1314,781h1v119h-1zM1315,782h1v118h-1zM1316,783h1v117h-1zM1317,784h1v117h-1zM1318,785h1v116h-1zM1319,786h1v116h-1zM1320,786h1v116h-1zM1321,787h1v116h-1zM1322,788h1v115h-1zM1323,789h1v113h-1zM1324,790h1v110h-1zM1325,791h1v107h-1zM1326,792h1v104h-1zM1327,793h1v101h-1zM1328,794h1v98h-1zM1329,795h1v95h-1zM1330,795h1v93h-1zM1331,792h1v96h-1zM1332,789h1v100h-1zM1333,786h1v103h-1zM1334,783h1v107h-1zM1335,780h1v111h-1zM1336,777h1v114h-1zM1337,774h1v118h-1zM1338,772h1v121h-1zM1339,772h1v121h-1zM1340,772h1v121h-1zM1341,772h1v122h-1zM1342,773h1v121h-1zM1343,773h1v121h-1zM1344,773h1v121h-1zM1345,773h1v122h-1zM1346,773h1v122h-1zM1347,774h1v120h-1zM1348,776h1v117h-1zM1349,777h1v114h-1zM1350,779h1v111h-1zM1351,781h1v107h-1zM1352,782h1v105h-1zM1353,784h1v102h-1zM1354,786h1v98h-1zM1355,787h1v97h-1zM1356,788h1v97h-1zM1357,790h1v95h-1zM1358,791h1v94h-1zM1359,792h1v94h-1zM1360,793h1v93h-1zM1361,794h1v93h-1zM1362,795h1v92h-1zM1363,796h1v92h-1zM1364,797h1v91h-1zM1365,798h1v90h-1zM1366,799h1v90h-1zM1367,800h1v89h-1zM1368,801h1v88h-1zM1369,802h1v88h-1zM1370,803h1v87h-1zM1371,804h1v86h-1zM1372,805h1v85h-1zM1373,807h1v82h-1zM1374,808h1v81h-1zM1375,809h1v80h-1zM1376,810h1v79h-1zM1377,811h1v77h-1zM1378,812h1v76h-1zM1379,810h1v79h-1zM1380,807h1v82h-1zM1381,805h1v85h-1zM1382,803h1v87h-1zM1383,801h1v90h-1zM1384,798h1v93h-1zM1385,796h1v96h-1zM1386,795h1v97h-1zM1387,795h1v98h-1zM1388,794h1v99h-1zM1389,794h1v100h-1zM1390,794h1v100h-1zM1391,794h1v101h-1zM1392,793h1v102h-1zM1393,793h1v103h-1zM1394,793h1v103h-1zM1395,793h1v103h-1zM1396,793h1v104h-1zM1397,793h1v104h-1zM1398,792h1v106h-1zM1399,792h1v106h-1zM1400,792h1v106h-1zM1401,792h1v107h-1zM1402,792h1v107h-1zM1403,792h1v107h-1zM1404,792h1v107h-1zM1405,792h1v108h-1zM1406,792h1v108h-1zM1407,792h1v108h-1zM1408,792h1v108h-1zM1409,792h1v109h-1zM1410,792h1v109h-1zM1411,790h1v111h-1zM1412,788h1v114h-1zM1413,786h1v116h-1zM1414,784h1v118h-1zM1415,783h1v120h-1zM1416,781h1v122h-1zM1417,779h1v124h-1zM1418,777h1v126h-1zM1419,775h1v129h-1zM1420,773h1v131h-1zM1421,771h1v133h-1zM1422,770h1v135h-1zM1423,768h1v137h-1zM1424,766h1v139h-1zM1425,764h1v142h-1zM1426,763h1v143h-1zM1427,763h1v143h-1zM1428,764h1v142h-1zM1429,764h1v143h-1zM1430,765h1v142h-1zM1431,765h1v142h-1zM1432,766h1v142h-1zM1433,766h1v142h-1zM1434,767h1v141h-1zM1435,769h1v137h-1zM1436,772h1v129h-1zM1437,775h1v121h-1zM1438,778h1v113h-1zM1439,781h1v105h-1zM1440,784h1v97h-1zM1441,787h1v89h-1zM1442,790h1v81h-1zM1443,793h1v75h-1zM1444,794h1v74h-1zM1445,795h1v73h-1zM1446,796h1v72h-1zM1447,797h1v72h-1zM1448,798h1v71h-1zM1449,799h1v70h-1zM1450,801h1v68h-1zM1451,802h1v66h-1zM1452,804h1v63h-1zM1453,806h1v61h-1zM1454,808h1v58h-1zM1455,811h1v54h-1zM1456,813h1v52h-1zM1457,815h1v49h-1zM1458,817h1v46h-1zM1459,818h1v44h-1zM1460,819h1v42h-1zM1461,820h1v40h-1zM1462,821h1v37h-1zM1463,821h1v36h-1zM1464,822h1v34h-1zM1465,823h1v32h-1zM1466,823h1v30h-1zM1467,822h1v32h-1zM1468,821h1v33h-1zM1469,819h1v36h-1zM1470,818h1v37h-1zM1471,816h1v40h-1zM1472,815h1v42h-1zM1473,814h1v43h-1zM1474,813h1v45h-1zM1475,814h1v43h-1zM1476,815h1v41h-1zM1477,817h1v38h-1zM1478,818h1v36h-1zM1479,820h1v33h-1zM1480,821h1v30h-1zM1481,823h1v27h-1zM1482,825h1v24h-1zM1483,826h1v22h-1zM1484,828h1v19h-1zM1485,829h1v18h-1zM1486,831h1v15h-1zM1487,832h1v13h-1zM1488,834h1v10h-1zM1489,835h1v8h-1zM1490,837h1v5h-1z" fill="#0000ff"/>
<path d="M50,835h1v1h-1zM82,824h1v3h-1zM83,820h1v8h-1zM84,816h1v13h-1zM85,812h1v19h-1zM86,808h1v24h-1zM87,804h1v29h-1zM88,800h1v35h-1zM89,796h1v40h-1zM90,794h1v43h-1zM91,793h1v46h-1zM92,791h1v49h-1zM93,790h1v51h-1zM94,789h1v54h-1zM95,787h1v57h-1zM96,786h1v60h-1zM97,785h1v62h-1zM98,784h1v64h-1zM99,784h1v65h-1zM100,785h1v65h-1zM101,786h1v65h-1zM102,787h1v65h-1zM103,788h1v65h-1zM104,789h1v65h-1zM105,790h1v65h-1zM106,791h1v65h-1zM107,792h1v64h-1zM108,793h1v63h-1zM109,794h1v63h-1zM110,795h1v62h-1zM111,796h1v61h-1zM112,797h1v61h-1zM113,798h1v60h-1zM114,799h1v60h-1zM115,799h1v61h-1zM116,798h1v63h-1zM117,798h1v64h-1zM118,797h1v66h-1zM119,797h1v67h-1zM120,797h1v68h-1zM121,796h1v70h-1zM122,796h1v71h-1zM123,796h1v71h-1zM124,798h1v70h-1zM125,799h1v69h-1zM126,800h1v68h-1zM127,801h1v68h-1zM128,802h1v67h-1zM129,803h1v67h-1zM130,804h1v66h-1zM131,806h1v64h-1zM132,807h1v61h-1zM133,808h1v60h-1zM134,809h1v57h-1zM135,810h1v56h-1zM136,811h1v53h-1zM137,812h1v52h-1zM138,813h1v49h-1zM139,813h1v50h-1zM140,812h1v52h-1zM141,812h1v52h-1zM142,811h1v54h-1zM143,810h1v55h-1zM144,810h1v56h-1zM145,809h1v58h-1zM146,809h1v58h-1zM147,809h1v59h-1zM148,809h1v60h-1zM149,810h1v59h-1zM150,810h1v60h-1zM151,810h1v61h-1zM152,810h1v61h-1zM153,811h1v61h-1zM154,811h1v62h-1zM155,811h1v63h-1zM156,812h1v62h-1zM157,812h1v63h-1zM158,812h1v64h-1zM159,813h1v64h-1zM160,813h1v65h-1zM161,813h1v65h-1zM162,814h1v65h-1zM163,814h1v65h-1zM164,814h1v66h-1zM165,815h1v65h-1zM166,815h1v66h-1zM167,815h1v66h-1zM168,815h1v66h-1zM169,816h1v66h-1zM170,816h1v66h-1zM171,815h1v68h-1zM172,815h1v68h-1zM173,814h1v70h-1zM174,814h1v70h-1zM175,813h1v72h-1zM176,813h1v72h-1zM177,812h1v74h-1zM178,811h1v75h-1zM179,810h1v77h-1zM180,809h1v78h-1zM181,807h1v81h-1zM182,806h1v82h-1zM183,804h1v85h-1zM184,803h1v86h-1zM185,802h1v88h-1zM186,801h1v89h-1zM187,802h1v87h-1zM188,802h1v87h-1zM189,804h1v84h-1zM190,804h1v83h-1zM191,806h1v81h-1zM192,806h1v80h-1zM193,808h1v77h-1zM194,808h1v76h-1zM195,810h1v73h-1zM196,810h1v72h-1zM197,812h1v69h-1zM198,812h1v68h-1zM199,814h1v64h-1zM200,814h1v63h-1zM201,816h1v60h-1zM202,816h1v59h-1zM203,818h1v56h-1zM204,818h1v56h-1zM205,820h1v54h-1zM206,820h1v54h-1zM207,822h1v51h-1zM208,822h1v51h-1zM209,824h1v49h-1zM210,824h1v50h-1zM211,824h1v51h-1zM212,823h1v53h-1zM213,823h1v54h-1zM214,822h1v56h-1zM215,821h1v58h-1zM216,821h1v59h-1zM217,820h1v61h-1zM218,820h1v62h-1zM219,820h1v63h-1zM220,821h1v62h-1zM221,822h1v62h-1zM222,822h1v62h-1zM223,823h1v62h-1zM224,824h1v61h-1zM225,825h1v61h-1zM226,826h1v60h-1zM227,826h1v59h-1zM228,827h1v57h-1zM229,828h1v55h-1zM230,829h1v53h-1zM231,829h1v51h-1zM232,830h1v49h-1zM233,831h1v47h-1zM234,832h1v45h-1zM235,832h1v43h-1zM236,833h1v39h-1zM237,834h1v36h-1zM238,835h1v32h-1zM239,836h1v29h-1zM240,837h1v25h-1zM241,837h1v23h-1zM242,838h1v19h-1zM243,839h1v17h-1zM244,840h1v16h-1zM245,841h1v15h-1zM246,842h1v14h-1zM247,843h1v13h-1zM248,843h1v13h-1zM249,844h1v12h-1zM250,845h1v11h-1zM251,846h1v10h-1zM252,847h1v8h-1zM253,847h1v8h-1zM254,848h1v7h-1zM255,849h1v6h-1zM256,849h1v5h-1zM257,850h1v4h-1zM258,851h1v3h-1zM259,850h1v5h-1zM260,849h1v6h-1zM261,849h1v7h-1zM262,848h1v9h-1zM263,848h1v9h-1zM264,847h1v11h-1zM265,846h1v13h-1zM266,846h1v13h-1zM267,846h1v14h-1zM268,846h1v15h-1zM269,845h1v16h-1zM270,845h1v17h-1zM271,845h1v18h-1zM272,845h1v18h-1zM273,844h1v20h-1zM274,844h1v21h-1zM275,842h1v23h-1zM276,841h1v25h-1zM277,840h1v26h-1zM278,838h1v29h-1zM279,837h1v30h-1zM280,835h1v33h-1zM281,834h1v34h-1zM282,833h1v36h-1zM283,834h1v35h-1zM284,834h1v35h-1zM285,834h1v36h-1zM286,834h1v36h-1zM287,835h1v36h-1zM288,835h1v36h-1zM289,835h1v36h-1zM290,836h1v36h-1zM291,836h1v36h-1zM292,836h1v37h-1zM293,836h1v37h-1zM294,836h1v38h-1zM295,836h1v38h-1zM296,836h1v39h-1zM297,836h1v39h-1zM298,836h1v40h-1zM299,836h1v40h-1zM300,835h1v42h-1zM301,835h1v43h-1zM302,835h1v43h-1zM303,834h1v45h-1zM304,834h1v46h-1zM305,833h1v47h-1zM306,833h1v48h-1zM307,833h1v47h-1zM308,834h1v45h-1zM309,835h1v43h-1zM310,835h1v41h-1zM311,836h1v39h-1zM312,837h1v37h-1zM313,838h1v35h-1zM314,838h1v34h-1zM315,839h1v33h-1zM316,839h1v33h-1zM317,839h1v34h-1zM318,839h1v34h-1zM319,839h1v35h-1zM320,839h1v35h-1zM321,839h1v36h-1zM322,839h1v36h-1zM323,837h1v39h-1zM324,835h1v41h-1zM325,833h1v44h-1zM326,832h1v46h-1zM327,830h1v48h-1zM328,828h1v51h-1zM329,826h1v54h-1zM330,825h1v55h-1zM331,826h1v53h-1zM332,828h1v49h-1zM333,829h1v46h-1zM334,831h1v41h-1zM335,832h1v38h-1zM336,834h1v34h-1zM337,836h1v30h-1zM338,837h1v27h-1zM339,838h1v24h-1zM340,839h1v21h-1zM341,840h1v19h-1zM342,840h1v17h-1zM343,841h1v14h-1zM344,841h1v13h-1zM345,842h1v10h-1zM346,842h1v8h-1zM347,840h1v11h-1zM348,837h1v14h-1zM349,835h1v17h-1zM350,833h1v20h-1zM351,831h1v23h-1zM352,828h1v26h-1zM353,826h1v29h-1zM354,825h1v31h-1zM355,824h1v32h-1zM356,823h1v34h-1zM357,822h1v35h-1zM358,822h1v35h-1zM359,821h1v37h-1zM360,820h1v38h-1zM361,819h1v40h-1zM362,819h1v40h-1zM363,819h1v40h-1zM364,820h1v38h-1zM365,821h1v36h-1zM366,822h1v34h-1zM367,823h1v33h-1zM368,824h1v31h-1zM369,824h1v30h-1zM370,824h1v29h-1zM371,822h1v32h-1zM372,819h1v36h-1zM373,817h1v39h-1zM374,814h1v43h-1zM375,811h1v47h-1zM376,809h1v50h-1zM377,806h1v54h-1zM378,805h1v56h-1zM379,805h1v57h-1zM380,806h1v56h-1zM381,807h1v56h-1zM382,807h1v57h-1zM383,808h1v56h-1zM384,809h1v56h-1zM385,810h1v55h-1zM386,810h1v56h-1zM387,809h1v58h-1zM388,808h1v59h-1zM389,807h1v61h-1zM390,806h1v63h-1zM391,804h1v66h-1zM392,803h1v67h-1zM393,802h1v69h-1zM394,801h1v71h-1zM395,800h1v73h-1zM396,799h1v75h-1zM397,798h1v76h-1zM398,796h1v79h-1zM399,795h1v81h-1zM400,794h1v83h-1zM401,793h1v85h-1zM402,792h1v86h-1zM403,792h1v87h-1zM404,792h1v87h-1zM405,791h1v89h-1zM406,791h1v89h-1zM407,791h1v90h-1zM408,790h1v91h-1zM409,790h1v92h-1zM410,790h1v92h-1zM411,791h1v90h-1zM412,792h1v88h-1zM413,794h1v85h-1zM414,796h1v82h-1zM415,797h1v80h-1zM416,799h1v77h-1zM417,801h1v74h-1zM418,802h1v72h-1zM419,804h1v69h-1zM420,805h1v65h-1zM421,806h1v62h-1zM422,808h1v58h-1zM423,809h1v55h-1zM424,810h1v52h-1zM425,812h1v48h-1zM426,813h1v45h-1zM427,813h1v45h-1zM428,812h1v47h-1zM429,811h1v49h-1zM430,811h1v50h-1zM431,810h1v52h-1zM432,810h1v53h-1zM433,809h1v55h-1zM434,808h1v57h-1zM435,807h1v59h-1zM436,806h1v60h-1zM437,805h1v62h-1zM438,804h1v64h-1zM439,803h1v65h-1zM440,802h1v67h-1zM441,801h1v69h-1zM442,800h1v70h-1zM443,799h1v72h-1zM444,798h1v74h-1zM445,797h1v75h-1zM446,797h1v76h-1zM447,796h1v78h-1zM448,795h1v79h-1zM449,794h1v81h-1zM450,794h1v82h-1zM451,794h1v82h-1zM452,795h1v82h-1zM453,796h1v81h-1zM454,796h1v81h-1zM455,797h1v81h-1zM456,798h1v80h-1zM457,799h1v80h-1zM458,799h1v80h-1zM459,800h1v78h-1zM460,802h1v75h-1zM461,804h1v71h-1zM462,805h1v68h-1zM463,807h1v65h-1zM464,809h1v61h-1zM465,810h1v58h-1zM466,812h1v55h-1zM467,813h1v54h-1zM468,814h1v53h-1zM469,815h1v53h-1zM470,816h1v52h-1zM471,817h1v52h-1zM472,818h1v51h-1zM473,818h1v52h-1zM474,819h1v51h-1zM475,820h1v48h-1zM476,822h1v43h-1zM477,823h1v38h-1zM478,824h1v34h-1zM479,825h1v29h-1zM480,827h1v24h-1zM481,828h1v20h-1zM482,829h1v15h-1zM483,831h1v11h-1zM484,832h1v9h-1zM485,833h1v8h-1zM486,834h1v6h-1zM487,835h1v4h-1zM488,836h1v3h-1zM502,833h1v6h-1zM503,830h1v10h-1zM504,827h1v14h-1zM505,824h1v18h-1zM506,823h1v20h-1zM507,823h1v21h-1zM508,824h1v20h-1zM509,824h1v21h-1zM510,824h1v22h-1zM511,825h1v21h-1zM512,825h1v22h-1zM513,825h1v22h-1zM514,826h1v22h-1zM515,826h1v22h-1zM516,827h1v21h-1zM517,828h1v21h-1zM518,829h1v20h-1zM519,830h1v19h-1zM520,831h1v19h-1zM521,831h1v19h-1zM522,832h1v18h-1zM523,832h1v20h-1zM524,832h1v20h-1zM525,832h1v22h-1zM526,831h1v23h-1zM527,831h1v25h-1zM528,831h1v25h-1zM529,830h1v28h-1zM530,829h1v29h-1zM531,828h1v31h-1zM532,827h1v33h-1zM533,825h1v35h-1zM534,824h1v37h-1zM535,822h1v39h-1zM536,821h1v41h-1zM537,820h1v43h-1zM538,818h1v45h-1zM539,816h1v48h-1zM540,815h1v50h-1zM541,813h1v52h-1zM542,811h1v55h-1zM543,809h1v57h-1zM544,808h1v59h-1zM545,806h1v62h-1zM546,804h1v64h-1zM547,803h1v66h-1zM548,801h1v69h-1zM549,799h1v72h-1zM550,798h1v74h-1zM551,796h1v77h-1zM552,794h1v80h-1zM553,793h1v82h-1zM554,792h1v83h-1zM555,793h1v81h-1zM556,794h1v79h-1zM557,795h1v77h-1zM558,797h1v74h-1zM559,798h1v71h-1zM560,800h1v68h-1zM561,801h1v66h-1zM562,802h1v64h-1zM563,804h1v62h-1zM564,804h1v62h-1zM565,806h1v61h-1zM566,806h1v61h-1zM567,808h1v60h-1zM568,808h1v60h-1zM569,810h1v59h-1zM570,810h1v59h-1zM571,808h1v62h-1zM572,807h1v63h-1zM573,805h1v65h-1zM574,803h1v68h-1zM575,801h1v70h-1zM576,800h1v71h-1zM577,798h1v74h-1zM578,797h1v75h-1zM579,797h1v76h-1zM580,797h1v77h-1zM581,798h1v76h-1zM582,798h1v77h-1zM583,798h1v78h-1zM584,798h1v78h-1zM585,799h1v78h-1zM586,799h1v79h-1zM587,800h1v78h-1zM588,800h1v79h-1zM589,802h1v77h-1zM590,802h1v78h-1zM591,804h1v77h-1zM592,804h1v77h-1zM593,806h1v76h-1zM594,806h1v76h-1zM595,807h1v75h-1zM596,808h1v73h-1zM597,809h1v72h-1zM598,810h1v70h-1zM599,811h1v68h-1zM600,812h1v67h-1zM601,813h1v65h-1zM602,814h1v64h-1zM603,815h1v61h-1zM604,816h1v58h-1zM605,817h1v55h-1zM606,818h1v52h-1zM607,819h1v49h-1zM608,820h1v46h-1zM609,821h1v43h-1zM610,822h1v40h-1zM611,823h1v36h-1zM612,824h1v31h-1zM613,826h1v25h-1zM614,827h1v20h-1zM615,828h1v15h-1zM616,830h1v9h-1zM617,831h1v4h-1zM639,835h1v1h-1zM640,835h1v2h-1zM641,835h1v2h-1zM642,835h1v3h-1zM643,836h1v1h-1zM1023,857h1v4h-1zM1024,854h1v8h-1zM1025,852h1v11h-1zM1026,851h1v12h-1zM1027,851h1v12h-1zM1028,852h1v10h-1zM1029,853h1v8h-1zM1030,854h1v6h-1zM1031,855h1v4h-1zM1032,856h1v2h-1z" fill="#ff0000"/>
<rect x="49" y="834" width="1" height="2" fill="#ff00ff"/>
<rect x="50" y="833" width="1" height="2" fill="#ff00ff"/>
<rect x="81" y="824" width="1" height="2" fill="#ff00ff"/>
<rect x="488" y="837" width="1" height="2" fill="#ff00ff"/>
<rect x="501" y="835" width="1" height="2" fill="#ff00ff"/>
<rect x="617" y="830" width="1" height="2" fill="#ff00ff"/>
<rect x="638" y="835" width="1" height="2" fill="#ff00ff"/>
<rect x="643" y="835" width="1" height="2" fill="#ff00ff"/>
<rect x="1022" y="858" width="1" height="2" fill="#ff00ff"/>
<rect x="1032" y="856" width="1" height="2" fill="#ff00ff"/>
<rect x="50" y="835" width="1" height="2" fill="#ff00ff"/>
<line x1="2" y1="850.5" x2="1490" y2="850.5" stroke="#c0c0c0" stroke-width="1" stroke-dasharray="3 3"/>
<polyline points="2.5,882.0 10.5,882.4 18.5,883.7 26.5,885.0 34.5,885.0 42.5,885.0 50.5,889.0 58.5,887.6 66.5,885.0 74.5,883.0 82.5,885.0 90.5,883.7 98.5,878.8 106.5,875.0 114.5,871.0 122.5,865.8 130.5,861.0 138.5,859.0 146.5,856.5 154.5,853.0 162.5,847.6 170.5,842.0 178.5,836.6 186.5,828.0 194.5,823.5 202.5,822.7 210.5,821.7 218.5,819.7 226.5,816.8 234.5,816.8 242.5,825.0 250.5,830.8 258.5,838.3 266.5,842.0 274.5,846.0 282.5,846.0 290.5,846.0 298.5,846.0 306.5,843.5 314.5,843.7 322.5,843.7 330.5,841.8 338.5,844.4 346.5,850.2 354.5,851.8 362.5,852.4 370.5,853.9 378.5,852.4 386.5,850.5 394.5,845.0 402.5,838.3 410.5,832.0 418.5,829.7 426.5,829.7 434.5,829.7 442.5,827.5 450.5,822.3 458.5,818.5 466.5,818.0 474.5,819.0 482.5,826.0 490.5,834.0 498.5,839.6 506.5,843.0 514.5,846.3 522.5,850.0 530.5,852.0 538.5,851.8 546.5,847.6 554.5,842.4 562.5,840.5 570.5,838.5 578.5,834.7 586.5,829.0 594.5,824.0 602.5,822.8 610.5,825.3 618.5,831.8 626.5,839.0 634.5,845.6 642.5,852.0 650.5,855.8 658.5,857.0 666.5,859.4 674.5,861.0 682.5,855.8 690.5,850.0 698.5,842.0 706.5,834.0 714.5,826.7 722.5,819.5 730.5,813.0 738.5,805.7 746.5,798.7 754.5,794.0 762.5,792.0 770.5,785.4 778.5,778.7 786.5,769.6 794.5,762.0 802.5,753.8 810.5,744.7 818.5,736.0 826.5,726.4 834.5,717.3 842.5,709.5 850.5,701.5 858.5,693.0 866.5,685.3 874.5,683.0 882.5,682.0 890.5,682.0 898.5,683.6 906.5,684.0 914.5,684.0 922.5,684.0 930.5,682.8 938.5,681.0 946.5,687.4 954.5,694.0 962.5,701.5 970.5,705.0 978.5,709.0 986.5,713.0 994.5,721.5 1002.5,731.0 1010.5,741.0 1018.5,750.0 1026.5,759.0 1034.5,768.3 1042.5,778.0 1050.5,786.6 1058.5,792.7 1066.5,793.0 1074.5,794.0 1082.5,794.0 1090.5,791.0 1098.5,790.7 1106.5,794.0 1114.5,798.0 1122.5,801.5 1130.5,805.6 1138.5,806.8 1146.5,807.3 1154.5,810.6 1162.5,812.8 1170.5,813.0 1178.5,822.0 1186.5,831.0 1194.5,832.7 1202.5,832.7 1210.5,833.4 1218.5,835.0 1226.5,833.7 1234.5,826.0 1242.5,818.7 1250.5,813.7 1258.5,805.4 1266.5,797.0 1274.5,787.0 1282.5,777.0 1290.5,768.0 1298.5,764.4 1306.5,759.4 1314.5,753.4 1322.5,747.3 1330.5,747.0 1338.5,742.7 1346.5,738.5 1354.5,738.0 1362.5,737.8 1370.5,737.3 1378.5,738.0 1386.5,738.0 1394.5,734.9 1402.5,731.5 1410.5,727.4 1418.5,721.6 1426.5,715.8 1434.5,711.0 1442.5,715.8 1450.5,720.7 1458.5,729.9 1466.5,740.7 1474.5,748.0 1482.5,758.0 1490.5,771.0" fill="none" stroke="#32cd32" stroke-width="2" stroke-linejoin="round"/>
<rect x="2" y="2" width="1841" height="1" fill="#ffffff"/>
<rect x="2" y="653" width="1841" height="1" fill="#ffffff"/>
<rect x="2" y="655" width="1841" height="1" fill="#ffffff"/>
<rect x="2" y="943" width="1841" height="1" fill="#ffffff"/>
<rect x="2" y="2" width="1" height="652" fill="#ffffff"/>
<rect x="2" y="655" width="1" height="289" fill="#ffffff"/>
<rect x="1842" y="2" width="1" height="942" fill="#ffffff"/>
<rect x="1843" y="13" width="4" height="1" fill="#ffffff"/>
<rect x="1843" y="45" width="4" height="1" fill="#ffffff"/>
<rect x="1843" y="77" width="4" height="1" fill="#ffffff"/>
<rect x="1843" y="109" width="4" height="1" fill="#ffffff"/>
<rect x="1843" y="141" width="4" height="1" fill="#ffffff"/>
<rect x="1843" y="173" width="4" height="1" fill="#ffffff"/>
<rect x="1843" y="205" width="4" height="1" fill="#ffffff"/>
<rect x="1843" y="237" width="4" height="1" fill="#ffffff"/>
<rect x="1843" y="269" width="4" height="1" fill="#ffffff"/>
<rect x="1843" y="301" width="4" height="1" fill="#ffffff"/>
<rect x="1843" y="333" width="4" height="1" fill="#ffffff"/>
<rect x="1843" y="365" width="4" height="1" fill="#ffffff"/>
<rect x="1843" y="397" width="4" height="1" fill="#ffffff"/>
<rect x="1843" y="429" width="4" height="1" fill="#ffffff"/>
<rect x="1843" y="461" width="4" height="1" fill="#ffffff"/>
<rect x="1843" y="493" width="4" height="1" fill="#ffffff"/>
<rect x="1843" y="525" width="4" height="1" fill="#ffffff"/>
<rect x="1843" y="557" width="4" height="1" fill="#ffffff"/>
<rect x="1843" y="589" width="4" height="1" fill="#ffffff"/>
<rect x="1843" y="621" width="4" height="1" fill="#ffffff"/>
<rect x="1843" y="655" width="4" height="1" fill="#ffffff"/>
<rect x="1843" y="942" width="4" height="1" fill="#ffffff"/>
<rect x="2" y="944" width="1" height="3" fill="#ffffff"/>
<rect x="66" y="944" width="1" height="3" fill="#ffffff"/>
<rect x="130" y="944" width="1" height="3" fill="#ffffff"/>
<rect x="194" y="944" width="1" height="3" fill="#ffffff"/>
<rect x="258" y="944" width="1" height="3" fill="#ffffff"/>
<rect x="322" y="944" width="1" height="3" fill="#ffffff"/>
<rect x="386" y="944" width="1" height="3" fill="#ffffff"/>
<rect x="450" y="944" width="1" height="3" fill="#ffffff"/>
<rect x="514" y="944" width="1" height="3" fill="#ffffff"/>
<rect x="578" y="944" width="1" height="3" fill="#ffffff"/>
<rect x="642" y="944" width="1" height="3" fill="#ffffff"/>
<rect x="706" y="944" width="1" height="3" fill="#ffffff"/>
<rect x="770" y="944" width="1" height="3" fill="#ffffff"/>
<rect x="834" y="944" width="1" height="3" fill="#ffffff"/>
<rect x="898" y="944" width="1" height="3" fill="#ffffff"/>
<rect x="962" y="944" width="1" height="3" fill="#ffffff"/>
<rect x="1026" y="944" width="1" height="3" fill="#ffffff"/>
<rect x="1090" y="944" width="1" height="3" fill="#ffffff"/>
<rect x="1154" y="944" width="1" height="3" fill="#ffffff"/>
<rect x="1218" y="944" width="1" height="3" fill="#ffffff"/>
<rect x="1282" y="944" width="1" height="3" fill="#ffffff"/>
<rect x="1346" y="944" width="1" height="3" fill="#ffffff"/>
<rect x="1410" y="944" width="1" height="3" fill="#ffffff"/>
<rect x="1474" y="944" width="1" height="3" fill="#ffffff"/>
<rect x="1845" y="184" width="44" height="1" fill="#ff0000"/>
<rect x="1845" y="185" width="44" height="11" fill="#778899"/>
</svg>
<svg width="0" height="0" style="position:absolute"><filter id="cr" x="0" y="0" width="100%" height="100%" color-interpolation-filters="sRGB"><feComponentTransfer><feFuncA type="linear" slope="2.4" intercept="-0.35"/></feComponentTransfer></filter></svg>
<section style="position:absolute;left:0;top:0;width:1900px;height:964px;filter:url(#cr)">
<div class="a" style="left:1848px;top:8px;">19945.87</div>
<div class="a" style="left:1848px;top:40px;">19605.15</div>
<div class="a" style="left:1848px;top:72px;">19264.43</div>
<div class="a" style="left:1848px;top:104px;">18923.71</div>
<div class="a" style="left:1848px;top:136px;">18582.99</div>
<div class="a" style="left:1848px;top:168px;">18242.27</div>
<div class="a" style="left:1848px;top:200px;">17901.55</div>
<div class="a" style="left:1848px;top:232px;">17560.83</div>
<div class="a" style="left:1848px;top:264px;">17220.11</div>
<div class="a" style="left:1848px;top:296px;">16879.39</div>
<div class="a" style="left:1848px;top:328px;">16538.67</div>
<div class="a" style="left:1848px;top:360px;">16197.95</div>
<div class="a" style="left:1848px;top:392px;">15857.23</div>
<div class="a" style="left:1848px;top:424px;">15516.51</div>
<div class="a" style="left:1848px;top:456px;">15175.79</div>
<div class="a" style="left:1848px;top:488px;">14835.07</div>
<div class="a" style="left:1848px;top:520px;">14494.35</div>
<div class="a" style="left:1848px;top:552px;">14153.63</div>
<div class="a" style="left:1848px;top:584px;">13812.91</div>
<div class="a" style="left:1848px;top:616px;">13472.19</div>
<div class="a" style="left:1848px;top:185px;color:#000">18065.46</div>
<div class="a" style="left:1848px;top:655px;">63.937</div>
<div class="a" style="left:1848px;top:932px;">-1.046</div>
<div class="a d" style="left:2px;top:947px;">18 Jul 2023</div>
<div class="a d" style="left:66px;top:947px;">28 Jul 2023</div>
<div class="a d" style="left:130px;top:947px;">9 Aug 2023</div>
<div class="a d" style="left:194px;top:947px;">21 Aug 2023</div>
<div class="a d" style="left:258px;top:947px;">31 Aug 2023</div>
<div class="a d" style="left:322px;top:947px;">12 Sep 2023</div>
<div class="a d" style="left:386px;top:947px;">22 Sep 2023</div>
<div class="a d" style="left:450px;top:947px;">4 Oct 2023</div>
<div class="a d" style="left:514px;top:947px;">16 Oct 2023</div>
<div class="a d" style="left:578px;top:947px;">26 Oct 2023</div>
<div class="a d" style="left:642px;top:947px;">7 Nov 2023</div>
<div class="a d" style="left:706px;top:947px;">17 Nov 2023</div>
<div class="a d" style="left:770px;top:947px;">29 Nov 2023</div>
<div class="a d" style="left:834px;top:947px;">11 Dec 2023</div>
<div class="a d" style="left:898px;top:947px;">21 Dec 2023</div>
<div class="a d" style="left:962px;top:947px;">5 Jan 2024</div>
<div class="a d" style="left:1026px;top:947px;">17 Jan 2024</div>
<div class="a d" style="left:1090px;top:947px;">29 Jan 2024</div>
<div class="a d" style="left:1154px;top:947px;">8 Feb 2024</div>
<div class="a d" style="left:1218px;top:947px;">20 Feb 2024</div>
<div class="a d" style="left:1282px;top:947px;">1 Mar 2024</div>
<div class="a d" style="left:1346px;top:947px;">13 Mar 2024</div>
<div class="a d" style="left:1410px;top:947px;">25 Mar 2024</div>
<div class="a d" style="left:1474px;top:947px;">8 Apr 2024</div>
<div class="h" style="left:6px;top:4px;">GER40Cash, Daily:  Germany 40 Index Cash</div>
<div class="h" style="left:6px;top:659px;">SMMA Wilder"s DMI (14) 22.617 21.928 37.862 0.000 20.000</div>
<div class="tm" style="left:1159px;top:582px;">&lt;0:14</div>
</section>
</body></html>
